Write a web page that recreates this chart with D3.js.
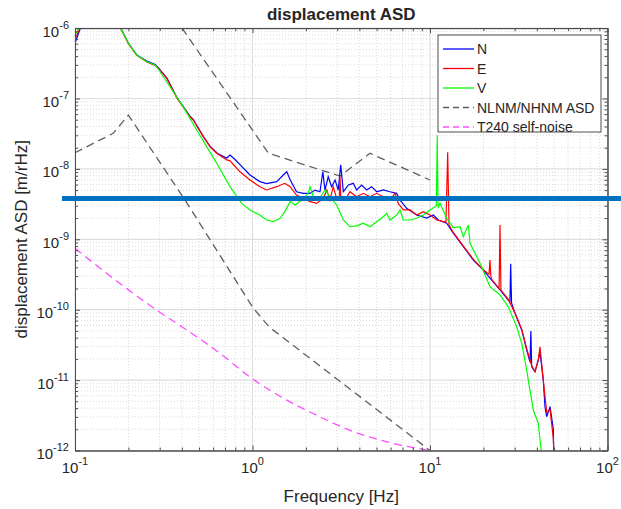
<!DOCTYPE html>
<html>
<head>
<meta charset="utf-8">
<script src="https://cdn.jsdelivr.net/npm/d3@7"></script>
<style>
body { margin: 0; background: #fff; }
text { font-family: "Liberation Sans", Arial, sans-serif; fill: #262626; }
</style>
</head>
<body>
<script>
var w = 621;
var h = 509;

var margin = {
  top: 28.1,
  bottom: 58.5,
  left: 75,
  right: 13.5
}

// ---- data ----
var xTicks = [0.1, 1, 10, 100];
var yTicks = [1e-12, 1e-11, 1e-10, 1e-9, 1e-8, 1e-7, 1e-6];

var nFreq = [0.1, 0.108, 0.14, 0.179, 0.2, 0.223, 0.254, 0.283, 0.295, 0.329, 0.374, 0.445, 0.464, 0.528, 0.576, 0.629, 0.656, 0.716, 0.747, 0.80, 0.85, 0.968, 1.10, 1.20, 1.37, 1.49, 1.56, 1.63, 1.77, 1.93, 2.11, 2.25, 2.40, 2.49, 2.56, 2.67, 2.79, 2.92, 3.04, 3.14, 3.25, 3.47, 3.70, 3.86, 4.12, 4.40, 4.69, 5.01, 5.46, 5.95, 6.49, 6.78, 7.39, 8.42, 9.58, 10.44, 11.14, 12.42, 13.53, 15.41, 17.54, 19.97, 22.27, 24.8, 27.61, 28.2, 28.48, 28.8, 30.11, 32.86, 35.05, 36.6, 37.0, 37.4, 39.04, 40.75, 41.66, 43.47, 44.44, 45.43, 47.45, 49.51, 49.8];
var nVal = [6.1e-7, 1.05e-6, 2e-6, 1.05e-6, 6.1e-7, 4.15e-7, 3.4e-7, 3.05e-7, 2.72e-7, 1.96e-7, 1.05e-7, 5.6e-8, 5.0e-8, 2.9e-8, 2.1e-8, 1.7e-8, 1.58e-8, 1.43e-8, 1.57e-8, 1.35e-8, 1.15e-8, 8.2e-9, 6.6e-9, 6.2e-9, 6.6e-9, 8.2e-9, 9.1e-9, 7.0e-9, 4.74e-9, 4.5e-9, 4.5e-9, 5.0e-9, 4.74e-9, 9.1e-9, 5.0e-9, 7.75e-9, 5.59e-9, 6.96e-9, 5.02e-9, 1.14e-8, 4.74e-9, 5.91e-9, 6.24e-9, 5.02e-9, 5.91e-9, 5.02e-9, 5.59e-9, 4.74e-9, 5.02e-9, 4.74e-9, 4.5e-9, 3.61e-9, 2.76e-9, 2.21e-9, 2.0e-9, 2.21e-9, 1.88e-9, 1.69e-9, 1.22e-9, 7.85e-10, 5.08e-10, 3.66e-10, 2.64e-10, 1.91e-10, 1.37e-10, 1.3e-10, 4.5e-10, 1.25e-10, 8.9e-11, 5.16e-11, 2.68e-11, 1.8e-11, 5.0e-11, 1.55e-11, 1.32e-11, 1.93e-11, 2.5e-11, 1.0e-11, 4.19e-12, 3.02e-12, 4.19e-12, 2.0e-12, 8e-13];

var eFreq = [0.1, 0.108, 0.14, 0.179, 0.2, 0.223, 0.254, 0.283, 0.295, 0.329, 0.374, 0.445, 0.464, 0.528, 0.576, 0.629, 0.716, 0.747, 0.85, 0.968, 1.10, 1.20, 1.37, 1.52, 1.63, 1.77, 1.93, 2.11, 2.30, 2.51, 2.62, 2.73, 2.85, 2.98, 3.08, 3.11, 3.15, 3.32, 3.54, 3.86, 4.21, 4.59, 5.01, 5.46, 5.95, 6.35, 6.63, 7.07, 7.72, 8.42, 9.17, 10.0, 10.91, 12.3, 12.58, 12.8, 13.53, 15.41, 17.54, 19.97, 21.5, 21.78, 22.0, 22.27, 24.5, 24.8, 25.1, 27.61, 30.11, 32.86, 35.05, 37.41, 39.04, 40.75, 41.66, 43.47, 45.43, 47.45, 49.51, 50.0];
var eVal = [7e-7, 1.05e-6, 2e-6, 1.05e-6, 6e-7, 4.1e-7, 3.3e-7, 2.95e-7, 2.68e-7, 1.94e-7, 1.03e-7, 5.5e-8, 4.95e-8, 2.87e-8, 2.07e-8, 1.67e-8, 1.34e-8, 1.3e-8, 9.1e-9, 6.96e-9, 5.59e-9, 5.02e-9, 5.59e-9, 6.24e-9, 5.59e-9, 4.26e-9, 3.82e-9, 3.42e-9, 3.24e-9, 3.82e-9, 5.02e-9, 3.61e-9, 5.59e-9, 3.82e-9, 3.7e-9, 7.75e-9, 3.6e-9, 3.61e-9, 4.74e-9, 4.03e-9, 4.5e-9, 4.03e-9, 4.5e-9, 4.03e-9, 3.61e-9, 4.5e-9, 3.24e-9, 2.61e-9, 2.61e-9, 2.21e-9, 2.47e-9, 2.21e-9, 1.88e-9, 1.75e-9, 1.72e-8, 1.6e-9, 1.25e-9, 8e-10, 5.2e-10, 3.7e-10, 3.2e-10, 5.08e-10, 3.0e-10, 2.7e-10, 2.0e-10, 1.6e-9, 1.9e-10, 1.4e-10, 9e-11, 5.3e-11, 2.8e-11, 1.6e-11, 1.32e-11, 1.93e-11, 2.98e-11, 1e-11, 3.5e-12, 3.8e-12, 1.5e-12, 8e-13];

var vFreq = [0.1, 0.108, 0.14, 0.179, 0.2, 0.223, 0.254, 0.283, 0.295, 0.343, 0.407, 0.485, 0.552, 0.629, 0.747, 0.869, 0.968, 1.10, 1.20, 1.31, 1.43, 1.52, 1.63, 1.74, 1.89, 2.06, 2.11, 2.20, 2.35, 2.56, 2.73, 2.98, 3.25, 3.54, 3.86, 4.21, 4.59, 5.01, 5.46, 5.70, 5.95, 6.49, 6.78, 7.07, 7.72, 8.42, 9.17, 10.0, 10.67, 10.85, 10.99, 11.1, 11.38, 12.42, 13.53, 14.76, 15.41, 16.44, 16.8, 19.13, 21.78, 24.8, 27.61, 30.78, 32.86, 35.05, 38.19, 40.75, 42.57];
var vVal = [8e-7, 1.1e-6, 2e-6, 1.05e-6, 6.1e-7, 4.15e-7, 3.33e-7, 2.99e-7, 2.6e-7, 1.47e-7, 7.65e-8, 3.57e-8, 2.07e-8, 1.2e-8, 5.6e-9, 3.24e-9, 2.61e-9, 2.21e-9, 1.88e-9, 1.78e-9, 1.99e-9, 2.47e-9, 3.42e-9, 3.07e-9, 3.61e-9, 4.5e-9, 5.59e-9, 4.03e-9, 3.61e-9, 5.02e-9, 4.03e-9, 3.07e-9, 1.88e-9, 1.51e-9, 1.55e-9, 1.69e-9, 1.51e-9, 1.78e-9, 2.09e-9, 2.34e-9, 1.88e-9, 2.21e-9, 2.61e-9, 1.88e-9, 1.88e-9, 1.99e-9, 2.21e-9, 2.61e-9, 2.9e-9, 3.0e-9, 3.0e-8, 2.8e-9, 3.24e-9, 1.99e-9, 1.45e-9, 1.51e-9, 1.09e-9, 1.6e-9, 8.77e-10, 4.56e-10, 2.12e-10, 1.62e-10, 1.1e-10, 5.75e-11, 3.34e-11, 1.39e-11, 3.76e-12, 2.43e-12, 8.6e-13];

var nlnmFreq = [0.1, 0.164, 0.2, 0.417, 1.0, 1.24, 10];
var nlnmVal = [1.7e-8, 3.2e-8, 5.8e-8, 3.6e-9, 1.09e-10, 5.7e-11, 1e-12];
var nhnmFreq = [0.401, 1.23, 3.11, 4.59, 10];
var nhnmVal = [1e-6, 1.67e-8, 7.9e-9, 1.67e-8, 6.95e-9];

var t240Freq = [0.1, 0.195, 0.288, 0.426, 0.656, 0.99, 1.56, 2.40, 3.70, 6.21, 10];
var t240Val = [7.45e-10, 2.01e-10, 9.9e-11, 5.15e-11, 2.4e-11, 1.06e-11, 5.2e-12, 3.0e-12, 1.85e-12, 1.26e-12, 1e-12];

var refLevel = 3.8e-9;

var legendNames = ['N', 'E', 'V', 'NLNM/NHNM ASD', 'T240 self-noise'];
// ----------------------------------------

var width = w - margin.left - margin.right
var height = h - margin.top - margin.bottom

var x = d3.scaleLog()
  .domain([0.1, 100])
  .range([margin.left, margin.left + width]);

var y = d3.scaleLog()
  .domain([1e-12, 1e-6])
  .range([margin.top + height, margin.top]);

var svg = d3.select("body").append("svg")
  .attr("id", "svg")
  .attr("width", w)
  .attr("height", h);

svg.append('defs').append('clipPath')
  .attr('id', 'plotclip')
  .append('rect')
  .attr('x', margin.left)
  .attr('y', margin.top)
  .attr('width', width)
  .attr('height', height);

// minor positions 2..9 of every decade
var xMinor = [];
xTicks.slice(0, -1).forEach(function (d) {
  for (var k = 2; k < 10; k++) xMinor.push(k * d);
});
var yMinor = [];
yTicks.slice(0, -1).forEach(function (d) {
  for (var k = 2; k < 10; k++) yMinor.push(k * d);
});

var grid = svg.append('g');
grid.selectAll('.xminor').data(xMinor).enter().append('line')
  .attr('x1', function (d) { return x(d); })
  .attr('x2', function (d) { return x(d); })
  .attr('y1', margin.top).attr('y2', margin.top + height)
  .attr('stroke', '#cfcfcf').attr('stroke-width', 0.8).attr('stroke-dasharray', '1,2');
grid.selectAll('.yminor').data(yMinor).enter().append('line')
  .attr('y1', function (d) { return y(d); })
  .attr('y2', function (d) { return y(d); })
  .attr('x1', margin.left).attr('x2', margin.left + width)
  .attr('stroke', '#cfcfcf').attr('stroke-width', 0.8).attr('stroke-dasharray', '1,2');
grid.selectAll('.xmajor').data(xTicks).enter().append('line')
  .attr('x1', function (d) { return x(d); })
  .attr('x2', function (d) { return x(d); })
  .attr('y1', margin.top).attr('y2', margin.top + height)
  .attr('stroke', '#dedede').attr('stroke-width', 1.2);
grid.selectAll('.ymajor').data(yTicks).enter().append('line')
  .attr('y1', function (d) { return y(d); })
  .attr('y2', function (d) { return y(d); })
  .attr('x1', margin.left).attr('x2', margin.left + width)
  .attr('stroke', '#dedede').attr('stroke-width', 1.2);

// curves
var line = d3.line()
  .x(function (d) { return x(d[0]); })
  .y(function (d) { return y(d[1]); });

var smooth = d3.line()
  .curve(d3.curveMonotoneX)
  .x(function (d) { return x(d[0]); })
  .y(function (d) { return y(d[1]); });

var chart = svg.append('g').attr('clip-path', 'url(#plotclip)');

chart.append('path').datum(d3.zip(nlnmFreq, nlnmVal))
  .attr('d', line).attr('fill', 'none')
  .attr('stroke', '#5f5f5f').attr('stroke-width', 1.3).attr('stroke-dasharray', '8,5');
chart.append('path').datum(d3.zip(nhnmFreq, nhnmVal))
  .attr('d', line).attr('fill', 'none')
  .attr('stroke', '#5f5f5f').attr('stroke-width', 1.3).attr('stroke-dasharray', '8,5');
chart.append('path').datum(d3.zip(t240Freq, t240Val))
  .attr('d', smooth).attr('fill', 'none')
  .attr('stroke', '#ff4dff').attr('stroke-width', 1.3).attr('stroke-dasharray', '8,5');

chart.append('path').datum(d3.zip(nFreq, nVal))
  .attr('d', line).attr('fill', 'none')
  .attr('stroke', '#0000ff').attr('stroke-width', 1.2);
chart.append('path').datum(d3.zip(eFreq, eVal))
  .attr('d', line).attr('fill', 'none')
  .attr('stroke', '#ff0000').attr('stroke-width', 1.2);
chart.append('path').datum(d3.zip(vFreq, vVal))
  .attr('d', line).attr('fill', 'none')
  .attr('stroke', '#00ff00').attr('stroke-width', 1.2);

// axes box with inward ticks on all sides
var axisColor = '#4d4d4d';
function styleAxis(g) {
  g.selectAll('path, line').attr('stroke', axisColor);
  g.selectAll('text').remove();
}
svg.append('g').attr('transform', 'translate(0,' + (margin.top + height) + ')')
  .call(d3.axisBottom(x).tickValues(xTicks).tickSize(-5).tickSizeOuter(0)).call(styleAxis);
svg.append('g').attr('transform', 'translate(0,' + margin.top + ')')
  .call(d3.axisTop(x).tickValues(xTicks).tickSize(-5).tickSizeOuter(0)).call(styleAxis);
svg.append('g').attr('transform', 'translate(' + margin.left + ',0)')
  .call(d3.axisLeft(y).tickValues(yTicks).tickSize(-5).tickSizeOuter(0)).call(styleAxis);
svg.append('g').attr('transform', 'translate(' + (margin.left + width) + ',0)')
  .call(d3.axisRight(y).tickValues(yTicks).tickSize(-5).tickSizeOuter(0)).call(styleAxis);
svg.append('g').attr('transform', 'translate(0,' + (margin.top + height) + ')')
  .call(d3.axisBottom(x).tickValues(xMinor).tickSize(-3).tickSizeOuter(0)).call(styleAxis);
svg.append('g').attr('transform', 'translate(0,' + margin.top + ')')
  .call(d3.axisTop(x).tickValues(xMinor).tickSize(-3).tickSizeOuter(0)).call(styleAxis);
svg.append('g').attr('transform', 'translate(' + margin.left + ',0)')
  .call(d3.axisLeft(y).tickValues(yMinor).tickSize(-3).tickSizeOuter(0)).call(styleAxis);
svg.append('g').attr('transform', 'translate(' + (margin.left + width) + ',0)')
  .call(d3.axisRight(y).tickValues(yMinor).tickSize(-3).tickSizeOuter(0)).call(styleAxis);

// tick labels as 10^n
function powLabel(sel) {
  sel.append('tspan').text('10');
  sel.append('tspan')
    .attr('dy', -8)
    .attr('font-size', 11)
    .text(function (d) { return String(Math.round(Math.log10(d))); });
}

svg.selectAll('.xlab').data(xTicks).enter().append('text')
  .attr('x', function (d) { return x(d); })
  .attr('y', margin.top + height + 22)
  .attr('text-anchor', 'middle')
  .attr('font-size', 15)
  .call(powLabel);

svg.selectAll('.ylab').data(yTicks).enter().append('text')
  .attr('x', margin.left - 6)
  .attr('y', function (d) { return y(d) + 8.5; })
  .attr('text-anchor', 'end')
  .attr('font-size', 15)
  .call(powLabel);

// titles
svg.append('text')
  .attr('x', margin.left + width / 2)
  .attr('y', 20)
  .attr('text-anchor', 'middle')
  .attr('font-size', 17)
  .attr('font-weight', 'bold')
  .attr('fill', '#000')
  .text('displacement ASD');

svg.append('text')
  .attr('x', margin.left + width / 2)
  .attr('y', 502)
  .attr('text-anchor', 'middle')
  .attr('font-size', 17)
  .text('Frequency [Hz]');

svg.append('text')
  .attr('transform', 'translate(27,' + (margin.top + height / 2) + ') rotate(-90)')
  .attr('text-anchor', 'middle')
  .attr('font-size', 17)
  .text('displacement ASD [m/rHz]');

// legend
var legendStyle = [
  { color: '#0000ff', dash: null },
  { color: '#ff0000', dash: null },
  { color: '#00ff00', dash: null },
  { color: '#5f5f5f', dash: '6,4' },
  { color: '#ff4dff', dash: '6,4' }
];

var legend = svg.append('g').attr('transform', 'translate(438,35)');
legend.append('rect')
  .attr('width', 163).attr('height', 97)
  .attr('fill', '#fff').attr('stroke', axisColor).attr('stroke-width', 1);

var items = legend.selectAll('.item').data(legendNames).enter().append('g')
  .attr('transform', function (d, i) { return 'translate(0,' + (14 + i * 19.5) + ')'; });
items.append('line')
  .attr('x1', 5).attr('x2', 36)
  .attr('stroke', function (d, i) { return legendStyle[i].color; })
  .attr('stroke-width', 1.3)
  .attr('stroke-dasharray', function (d, i) { return legendStyle[i].dash; });
items.append('text')
  .attr('x', 39).attr('y', 5)
  .attr('font-size', 14)
  .text(function (d) { return d; });

// thick blue reference bar drawn over the plot
svg.append('line')
  .attr('x1', 62).attr('x2', w)
  .attr('y1', y(refLevel)).attr('y2', y(refLevel))
  .attr('stroke', '#0070c0')
  .attr('stroke-width', 5);
</script>
</body>
</html>
